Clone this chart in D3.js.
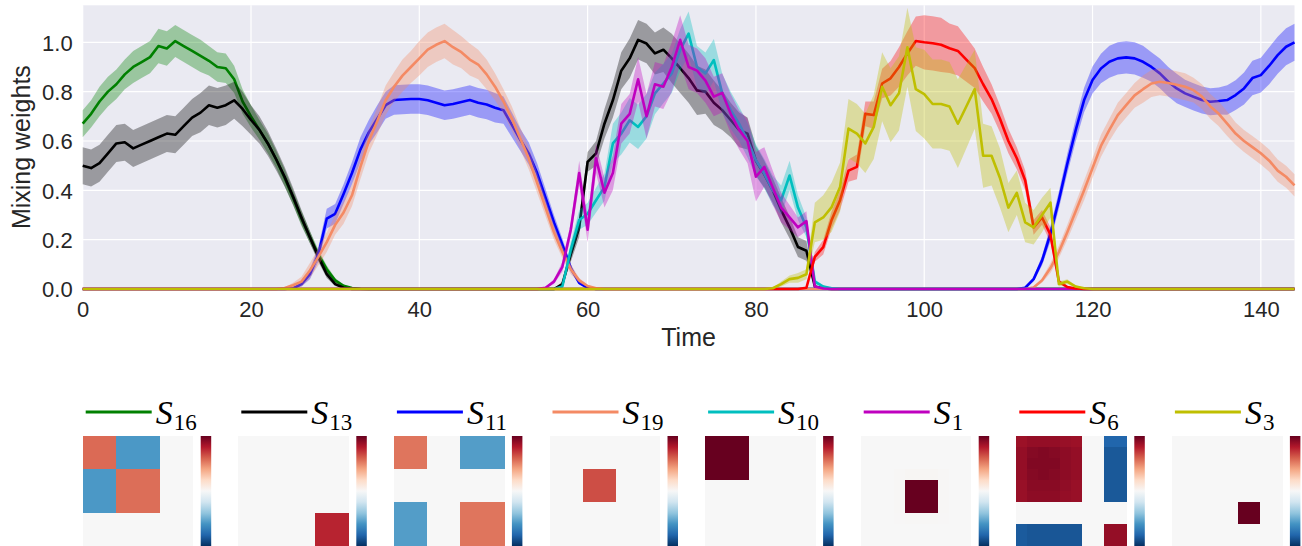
<!DOCTYPE html>
<html><head><meta charset="utf-8">
<script src="https://cdn.jsdelivr.net/npm/d3@7"></script>
<style>html,body{margin:0;padding:0;background:#fff;overflow:hidden}</style>
</head><body><svg id="c" width="1302" height="546"></svg>
<script>
// ---------- data ----------
const seriesSub = ["16","13","11","19","10","1","6","3"];
const seriesColors = ["#008000","#000000","#0000ff","#f48a64","#00bfbf","#bf00bf","#ff0000","#bfbf00"];
const xTicks = [0,20,40,60,80,100,120,140];
const yTicks = [0.0,0.2,0.4,0.6,0.8,1.0];
const yTickLabels = ["0.0","0.2","0.4","0.6","0.8","1.0"];

const s16 = [.67,.71,.76,.80,.83,.87,.90,.92,.94,.985,
 .975,1.005,.985,.965,.945,.925,.90,.895,.85,.76,
 .70,.645,.59,.525,.45,.37,.285,.21,.14,.08,
 .035,.013,.004,.001,0,0,0,0,0,0,
 0,0,0,0,0,0,0,0,0,0, 0,0,0,0,0,0,0,0,0,0, 0,0,0,0,0,0,0,0,0,0,
 0,0,0,0,0,0,0,0,0,0, 0,0,0,0,0,0,0,0,0,0, 0,0,0,0,0,0,0,0,0,0,
 0,0,0,0,0,0,0,0,0,0, 0,0,0,0,0,0,0,0,0,0, 0,0,0,0,0,0,0,0,0,0,
 0,0,0,0,0,0,0,0,0,0, 0,0,0,0,0];
const s16sd = [.055,.055,.06,.06,.06,.06,.065,.065,.065,.07,
 .07,.065,.065,.065,.065,.06,.06,.06,.055,.05,
 .045,.04,.04,.035,.035,.03,.03,.025,.02,.015,
 .01,.005,.002,0,0,0,0,0,0,0,
 0,0,0,0,0,0,0,0,0,0, 0,0,0,0,0,0,0,0,0,0, 0,0,0,0,0,0,0,0,0,0,
 0,0,0,0,0,0,0,0,0,0, 0,0,0,0,0,0,0,0,0,0, 0,0,0,0,0,0,0,0,0,0,
 0,0,0,0,0,0,0,0,0,0, 0,0,0,0,0,0,0,0,0,0, 0,0,0,0,0,0,0,0,0,0,
 0,0,0,0,0,0,0,0,0,0, 0,0,0,0,0];

const s13 = [.50,.49,.51,.55,.59,.595,.57,.585,.60,.615,
 .63,.625,.66,.695,.715,.745,.735,.745,.765,.73,
 .685,.645,.59,.525,.455,.375,.29,.21,.13,.06,
 .02,.005,0,0,0,0,0,0,0,0,
 0,0,0,0,0,0,0,0,0,0,
 0,0,0,0,0,0,0,.02,.14,.25,
 .515,.55,.67,.765,.885,.935,1.01,.995,.955,.97,
 .935,.895,.855,.805,.80,.755,.725,.685,.645,.63,
 .52,.465,.40,.32,.25,.17,.155,.01,.002,0,
 0,0,0,0,0,0,0,0,0,0, 0,0,0,0,0,0,0,0,0,0, 0,0,0,0,0,0,0,0,0,0,
 0,0,0,0,0,0,0,0,0,0, 0,0,0,0,0,0,0,0,0,0, 0,0,0,0,0];
const s13sd = [.075,.075,.075,.075,.075,.075,.075,.075,.075,.075,
 .075,.075,.075,.075,.08,.08,.08,.08,.075,.07,
 .06,.055,.05,.045,.04,.035,.03,.025,.02,.015,
 .008,.003,0,0,0,0,0,0,0,0,
 0,0,0,0,0,0,0,0,0,0,
 0,0,0,0,0,0,0,.01,.03,.04,
 .04,.05,.06,.07,.075,.08,.08,.08,.085,.09,
 .1,.1,.1,.1,.09,.09,.08,.07,.07,.065,
 .06,.055,.05,.05,.045,.04,.04,.005,0,0,
 0,0,0,0,0,0,0,0,0,0, 0,0,0,0,0,0,0,0,0,0, 0,0,0,0,0,0,0,0,0,0,
 0,0,0,0,0,0,0,0,0,0, 0,0,0,0,0,0,0,0,0,0, 0,0,0,0,0];

const s11 = [0,0,0,0,0,0,0,0,0,0, 0,0,0,0,0,0,0,0,0,0,
 0,0,0,0,0,.003,.02,.06,.14,.285,
 .305,.385,.47,.565,.635,.69,.745,.766,.768,.77,
 .77,.765,.755,.745,.75,.758,.766,.755,.748,.735,
 .725,.665,.605,.55,.47,.37,.27,.18,.085,.025,
 .005,0,0,0,0,0,0,0,0,0,
 0,0,0,0,0,0,0,0,0,0, 0,0,0,0,0,0,0,0,0,0, 0,0,0,0,0,0,0,0,0,0, 0,0,0,0,0,0,0,0,0,0,
 0,0,.005,.04,.115,.224,.36,.508,.644,.766,
 .847,.894,.921,.935,.939,.935,.921,.90,.874,.84,
 .813,.793,.779,.766,.759,.762,.766,.786,.813,.855,
 .867,.905,.948,.982,1.0];
const s11sd = [0,0,0,0,0,0,0,0,0,0, 0,0,0,0,0,0,0,0,0,0,
 0,0,0,0,0,.002,.01,.02,.03,.04,
 .04,.04,.045,.05,.05,.055,.055,.06,.06,.06,
 .06,.06,.06,.06,.06,.06,.06,.06,.06,.06,
 .055,.05,.045,.045,.04,.035,.03,.025,.015,.008,
 .002,0,0,0,0,0,0,0,0,0,
 0,0,0,0,0,0,0,0,0,0, 0,0,0,0,0,0,0,0,0,0, 0,0,0,0,0,0,0,0,0,0, 0,0,0,0,0,0,0,0,0,0,
 0,0,.002,.01,.02,.03,.035,.04,.045,.05,
 .055,.06,.065,.065,.065,.065,.065,.06,.06,.06,
 .06,.055,.055,.055,.055,.055,.06,.06,.065,.07,
 .07,.075,.075,.075,.075];

const s19 = [0,0,0,0,0,0,0,0,0,0, 0,0,0,0,0,0,0,0,0,0,
 0,0,0,0,.004,.015,.03,.075,.13,.19,
 .26,.31,.38,.495,.60,.68,.765,.82,.865,.90,
 .935,.97,.99,1.005,.98,.96,.93,.91,.87,.82,
 .76,.69,.61,.53,.43,.33,.23,.15,.08,.035,
 .012,.003,0,0,0,0,0,0,0,0,
 0,0,0,0,0,0,0,0,0,0, 0,0,0,0,0,0,0,0,0,0, 0,0,0,0,0,0,0,0,0,0, 0,0,0,0,0,0,0,0,0,0,
 0,0,0,.006,.035,.085,.15,.23,.315,.40,
 .49,.58,.645,.705,.745,.785,.81,.833,.84,.835,
 .828,.82,.806,.78,.74,.71,.67,.63,.60,.575,
 .55,.52,.48,.455,.42];
const s19sd = [0,0,0,0,0,0,0,0,0,0, 0,0,0,0,0,0,0,0,0,0,
 0,0,0,0,.002,.01,.02,.03,.035,.04,
 .04,.045,.045,.05,.05,.055,.06,.06,.065,.065,
 .07,.07,.07,.07,.07,.065,.065,.06,.06,.055,
 .05,.05,.045,.045,.04,.035,.03,.025,.02,.01,
 .005,.001,0,0,0,0,0,0,0,0,
 0,0,0,0,0,0,0,0,0,0, 0,0,0,0,0,0,0,0,0,0, 0,0,0,0,0,0,0,0,0,0, 0,0,0,0,0,0,0,0,0,0,
 0,0,0,.002,.01,.02,.025,.03,.035,.04,
 .04,.045,.045,.05,.05,.05,.055,.055,.055,.055,
 .055,.055,.05,.05,.05,.05,.05,.045,.045,.045,
 .045,.045,.045,.045,.045];

const s10 = [0,0,0,0,0,0,0,0,0,0, 0,0,0,0,0,0,0,0,0,0, 0,0,0,0,0,0,0,0,0,0,
 0,0,0,0,0,0,0,0,0,0, 0,0,0,0,0,0,0,0,0,0,
 0,0,0,0,0,0,0,.01,.16,.28,
 .305,.36,.413,.59,.63,.684,.657,.70,.793,.833,
 .874,.969,1.035,.90,.874,.928,.793,.725,.67,.603,
 .522,.467,.40,.36,.46,.33,.25,.03,.01,.003,
 0,0,0,0,0,0,0,0,0,0, 0,0,0,0,0,0,0,0,0,0, 0,0,0,0,0,0,0,0,0,0,
 0,0,0,0,0,0,0,0,0,0, 0,0,0,0,0,0,0,0,0,0, 0,0,0,0,0];
const s10sd = [0,0,0,0,0,0,0,0,0,0, 0,0,0,0,0,0,0,0,0,0, 0,0,0,0,0,0,0,0,0,0,
 0,0,0,0,0,0,0,0,0,0, 0,0,0,0,0,0,0,0,0,0,
 0,0,0,0,0,0,0,.005,.03,.04,
 .045,.05,.055,.08,.085,.09,.09,.09,.085,.08,
 .08,.085,.09,.085,.085,.085,.08,.075,.07,.07,
 .065,.06,.06,.06,.06,.05,.04,.01,.005,.002,
 0,0,0,0,0,0,0,0,0,0, 0,0,0,0,0,0,0,0,0,0, 0,0,0,0,0,0,0,0,0,0,
 0,0,0,0,0,0,0,0,0,0, 0,0,0,0,0,0,0,0,0,0, 0,0,0,0,0];

const s1 = [0,0,0,0,0,0,0,0,0,0, 0,0,0,0,0,0,0,0,0,0, 0,0,0,0,0,0,0,0,0,0,
 0,0,0,0,0,0,0,0,0,0, 0,0,0,0,0,0,0,0,0,0,
 0,0,0,0,0,.005,.03,.09,.24,.47,
 .24,.53,.39,.47,.67,.71,.85,.70,.83,.82,
 .90,1.01,.90,.885,.845,.78,.795,.71,.645,.60,
 .455,.495,.41,.33,.29,.25,.275,.01,.002,0,
 0,0,0,0,0,0,0,0,0,0, 0,0,0,0,0,0,0,0,0,0, 0,0,0,0,0,0,0,0,0,0,
 0,0,0,0,0,0,0,0,0,0, 0,0,0,0,0,0,0,0,0,0, 0,0,0,0,0];
const s1sd = [0,0,0,0,0,0,0,0,0,0, 0,0,0,0,0,0,0,0,0,0, 0,0,0,0,0,0,0,0,0,0,
 0,0,0,0,0,0,0,0,0,0, 0,0,0,0,0,0,0,0,0,0,
 0,0,0,0,0,.002,.01,.02,.03,.05,
 .05,.06,.06,.07,.08,.08,.09,.09,.09,.09,
 .1,.1,.09,.09,.09,.08,.08,.08,.08,.09,
 .1,.08,.07,.06,.05,.04,.04,.005,0,0,
 0,0,0,0,0,0,0,0,0,0, 0,0,0,0,0,0,0,0,0,0, 0,0,0,0,0,0,0,0,0,0,
 0,0,0,0,0,0,0,0,0,0, 0,0,0,0,0,0,0,0,0,0, 0,0,0,0,0];

const s6 = [0,0,0,0,0,0,0,0,0,0, 0,0,0,0,0,0,0,0,0,0, 0,0,0,0,0,0,0,0,0,0,
 0,0,0,0,0,0,0,0,0,0, 0,0,0,0,0,0,0,0,0,0, 0,0,0,0,0,0,0,0,0,0,
 0,0,0,0,0,0,0,0,0,0, 0,0,0,0,0,0,0,0,0,0,
 0,0,0,0,0,0,.005,.13,.17,.28,
 .36,.48,.495,.71,.705,.833,.854,.90,.955,1.005,
 1.0,.996,.99,.976,.965,.93,.895,.83,.77,.69,
 .60,.53,.44,.25,.29,.22,.03,.008,.002,0,
 0,0,0,0,0,0,0,0,0,0, 0,0,0,0,0,0,0,0,0,0, 0,0,0,0,0];
const s6sd = [0,0,0,0,0,0,0,0,0,0, 0,0,0,0,0,0,0,0,0,0, 0,0,0,0,0,0,0,0,0,0,
 0,0,0,0,0,0,0,0,0,0, 0,0,0,0,0,0,0,0,0,0, 0,0,0,0,0,0,0,0,0,0,
 0,0,0,0,0,0,0,0,0,0, 0,0,0,0,0,0,0,0,0,0,
 0,0,0,0,0,0,.002,.02,.03,.035,
 .04,.045,.05,.05,.055,.06,.07,.08,.09,.1,
 .11,.11,.11,.1,.1,.09,.08,.07,.06,.055,
 .05,.045,.04,.03,.03,.03,.01,.005,.001,0,
 0,0,0,0,0,0,0,0,0,0, 0,0,0,0,0,0,0,0,0,0, 0,0,0,0,0];

const s3 = [0,0,0,0,0,0,0,0,0,0, 0,0,0,0,0,0,0,0,0,0, 0,0,0,0,0,0,0,0,0,0,
 0,0,0,0,0,0,0,0,0,0, 0,0,0,0,0,0,0,0,0,0, 0,0,0,0,0,0,0,0,0,0,
 0,0,0,0,0,0,0,0,0,0, 0,0,0,0,0,0,0,0,0,0,
 0,0,.003,.02,.04,.045,.06,.27,.29,.332,
 .413,.65,.63,.59,.657,.82,.745,.793,.98,.81,
 .79,.75,.75,.74,.67,.74,.81,.54,.54,.45,
 .33,.39,.27,.25,.30,.35,.02,.03,.01,.003,
 0,0,0,0,0,0,0,0,0,0, 0,0,0,0,0,0,0,0,0,0, 0,0,0,0,0];
const s3sd = [0,0,0,0,0,0,0,0,0,0, 0,0,0,0,0,0,0,0,0,0, 0,0,0,0,0,0,0,0,0,0,
 0,0,0,0,0,0,0,0,0,0, 0,0,0,0,0,0,0,0,0,0, 0,0,0,0,0,0,0,0,0,0,
 0,0,0,0,0,0,0,0,0,0, 0,0,0,0,0,0,0,0,0,0,
 0,0,.002,.01,.015,.02,.02,.08,.09,.1,
 .1,.12,.12,.12,.13,.14,.15,.15,.16,.17,
 .18,.18,.18,.18,.18,.17,.16,.13,.12,.12,
 .1,.09,.08,.07,.07,.06,.01,.01,.005,.001,
 0,0,0,0,0,0,0,0,0,0, 0,0,0,0,0,0,0,0,0,0, 0,0,0,0,0];

// 10x10 structure matrices shown under the legend
const mS16 = [
 [.57,.57,.57,-.58,-.58,-.58,-.58,0,0,0],
 [.57,.57,.57,-.58,-.58,-.58,-.58,0,0,0],
 [.57,.57,.57,-.58,-.58,-.58,-.58,0,0,0],
 [-.58,-.58,-.58,.56,.56,.56,.56,0,0,0],
 [-.58,-.58,-.58,.56,.56,.56,.56,0,0,0],
 [-.58,-.58,-.58,.56,.56,.56,.56,0,0,0],
 [-.58,-.58,-.58,.56,.56,.56,.56,0,0,0],
 [0,0,0,0,0,0,0,0,0,0],[0,0,0,0,0,0,0,0,0,0],[0,0,0,0,0,0,0,0,0,0]];
const mS13 = [
 [0,0,0,0,0,0,0,0,0,0],[0,0,0,0,0,0,0,0,0,0],[0,0,0,0,0,0,0,0,0,0],
 [0,0,0,0,0,0,0,0,0,0],[0,0,0,0,0,0,0,0,0,0],[0,0,0,0,0,0,0,0,0,0],
 [0,0,0,0,0,0,0,0,0,0],
 [0,0,0,0,0,0,0,.77,.77,.77],[0,0,0,0,0,0,0,.77,.77,.77],[0,0,0,0,0,0,0,.77,.77,.77]];
const mS11 = [
 [.54,.54,.54,0,0,0,-.56,-.56,-.56,-.56],
 [.54,.54,.54,0,0,0,-.56,-.56,-.56,-.56],
 [.54,.54,.54,0,0,0,-.56,-.56,-.56,-.56],
 [0,0,0,0,0,0,0,0,0,0],[0,0,0,0,0,0,0,0,0,0],[0,0,0,0,0,0,0,0,0,0],
 [-.56,-.56,-.56,0,0,0,.54,.54,.54,.54],
 [-.56,-.56,-.56,0,0,0,.54,.54,.54,.54],
 [-.56,-.56,-.56,0,0,0,.54,.54,.54,.54],
 [-.56,-.56,-.56,0,0,0,.54,.54,.54,.54]];
const mS19 = [
 [0,0,0,0,0,0,0,0,0,0],[0,0,0,0,0,0,0,0,0,0],[0,0,0,0,0,0,0,0,0,0],
 [0,0,0,.65,.65,.65,0,0,0,0],[0,0,0,.65,.65,.65,0,0,0,0],[0,0,0,.65,.65,.65,0,0,0,0],
 [0,0,0,0,0,0,0,0,0,0],[0,0,0,0,0,0,0,0,0,0],[0,0,0,0,0,0,0,0,0,0],[0,0,0,0,0,0,0,0,0,0]];
const mS10 = [
 [1,1,1,1,0,0,0,0,0,0],[1,1,1,1,0,0,0,0,0,0],[1,1,1,1,0,0,0,0,0,0],[1,1,1,1,0,0,0,0,0,0],
 [0,0,0,0,0,0,0,0,0,0],[0,0,0,0,0,0,0,0,0,0],[0,0,0,0,0,0,0,0,0,0],
 [0,0,0,0,0,0,0,0,0,0],[0,0,0,0,0,0,0,0,0,0],[0,0,0,0,0,0,0,0,0,0]];
const mS1 = [
 [0,0,0,0,0,0,0,0,0,0],[0,0,0,0,0,0,0,0,0,0],[0,0,0,0,0,0,0,0,0,0],
 [0,0,0,.01,.015,.015,.015,.01,0,0],
 [0,0,0,.01,1,1,1,.01,0,0],[0,0,0,.01,1,1,1,.01,0,0],[0,0,0,.01,1,1,1,.01,0,0],
 [0,0,0,.005,.01,.01,.01,.005,0,0],
 [0,0,0,0,0,0,0,0,0,0],[0,0,0,0,0,0,0,0,0,0]];
const mS6 = [
 [.86,.88,.88,.88,.87,.86,0,0,-.8,-.8],
 [.88,.92,.93,.92,.9,.88,0,0,-.85,-.85],
 [.88,.93,.93,.93,.9,.88,0,0,-.85,-.85],
 [.88,.92,.93,.92,.9,.88,0,0,-.85,-.85],
 [.87,.91,.91,.91,.89,.87,0,0,-.85,-.85],
 [.87,.9,.9,.9,.88,.87,0,0,-.85,-.85],
 [0,0,0,0,0,0,0,0,0,0],[0,0,0,0,0,0,0,0,0,0],
 [-.84,-.86,-.86,-.86,-.86,-.86,0,0,.88,.88],
 [-.84,-.86,-.86,-.86,-.86,-.86,0,0,.88,.88]];
const mS3 = [
 [0,0,0,0,0,0,0,0,0,0],[0,0,0,0,0,0,0,0,0,0],[0,0,0,0,0,0,0,0,0,0],
 [0,0,0,0,0,0,0,0,0,0],[0,0,0,0,0,0,0,0,0,0],[0,0,0,0,0,0,0,0,0,0],
 [0,0,0,0,0,0,1,1,0,0],[0,0,0,0,0,0,1,1,0,0],
 [0,0,0,0,0,0,0,0,0,0],[0,0,0,0,0,0,0,0,0,0]];

const seriesValues = [s16,s13,s11,s19,s10,s1,s6,s3];
const seriesSpread = [s16sd,s13sd,s11sd,s19sd,s10sd,s1sd,s6sd,s3sd];
const matrices = [mS16,mS13,mS11,mS19,mS10,mS1,mS6,mS3];

// ---------- drawing ----------
const svg = d3.select("#c");
svg.append("rect").attr("width",1302).attr("height",546).attr("fill","#fff");

const L = 82.7, R = 1294.5, T = 5.3, B = 289;
const x = d3.scaleLinear().domain([0,144]).range([L,R]);
const y = d3.scaleLinear().domain([0,1.15]).range([B,T]);
const sansFont = "'Liberation Sans', Arial, 'DejaVu Sans', sans-serif";

svg.append("rect").attr("x",L).attr("y",T).attr("width",R-L).attr("height",B-T).attr("fill","#eaeaf2");

// grid
svg.append("g").selectAll("line").data(yTicks).join("line")
  .attr("x1",L).attr("x2",R).attr("y1",d=>y(d)).attr("y2",d=>y(d))
  .attr("stroke","#fff").attr("stroke-width",1.2);
svg.append("g").selectAll("line").data(xTicks).join("line")
  .attr("x1",d=>x(d)).attr("x2",d=>x(d)).attr("y1",T).attr("y2",B)
  .attr("stroke","#fff").attr("stroke-width",1.2);

// axes (tick labels only, seaborn darkgrid style)
const xAxis = d3.axisBottom(x).tickValues(xTicks).tickSize(0).tickPadding(0).tickFormat(d3.format("d"));
const gx = svg.append("g").attr("transform",`translate(0,${B})`).call(xAxis);
gx.select(".domain").remove();
gx.selectAll("text").attr("font-family",sansFont).attr("font-size",22).attr("fill","#262626")
  .attr("dy",null).attr("y",27.5);

const yAxis = d3.axisLeft(y).tickValues(yTicks).tickSize(0).tickPadding(10).tickFormat((d,i)=>yTickLabels[i]);
const gy = svg.append("g").attr("transform",`translate(${L},0)`).call(yAxis);
gy.select(".domain").remove();
gy.selectAll("text").attr("font-family",sansFont).attr("font-size",22).attr("fill","#262626")
  .attr("dy","0.36em");

svg.append("text").attr("x",(L+R)/2).attr("y",346).attr("text-anchor","middle")
  .attr("font-family",sansFont).attr("font-size",25).attr("fill","#262626").text("Time");
svg.append("text").attr("transform",`translate(29.5,${(T+B)/2}) rotate(-90)`).attr("text-anchor","middle")
  .attr("font-family",sansFont).attr("font-size",25).attr("fill","#262626").text("Mixing weights");

// series
const area = d3.area().x((d,i)=>x(i)).y0(d=>y(Math.max(0,d[0]-d[1]))).y1(d=>y(d[0]+d[1]));
const line = d3.line().x((d,i)=>x(i)).y(d=>y(d));
const gs = svg.append("g");
seriesValues.forEach((vals,k)=>{
  const pairs = vals.map((v,i)=>[v,seriesSpread[k][i]]);
  gs.append("path").attr("d",area(pairs)).attr("fill",seriesColors[k]).attr("fill-opacity",0.34).attr("stroke","none");
  gs.append("path").attr("d",line(vals)).attr("fill","none").attr("stroke",seriesColors[k])
    .attr("stroke-width",2.6).attr("stroke-linejoin","round");
});

// legend + matrices
const panelX = d3.scaleLinear().domain([0,7]).range([82.7,1171.9]);
const cellTop = 436, cellSize = 110;
const rdbu = d3.schemeRdBu[11];
const col = d3.scaleLinear().domain(d3.range(11).map(i=>1 - i*0.2)).range(rdbu).interpolate(d3.interpolateRgb);

const defs = svg.append("defs");
const grad = defs.append("linearGradient").attr("id","cbar").attr("x1",0).attr("y1",0).attr("x2",0).attr("y2",1);
rdbu.forEach((c,i)=>grad.append("stop").attr("offset",i/10).attr("stop-color",c));

matrices.forEach((m,k)=>{
  const left = panelX(k);
  const g = svg.append("g");
  g.append("line").attr("x1",left+3).attr("x2",left+69).attr("y1",412).attr("y2",412)
    .attr("stroke",seriesColors[k]).attr("stroke-width",3);
  const t = g.append("text").attr("x",left+73).attr("y",424)
    .attr("font-family","'Liberation Serif','DejaVu Serif',serif").attr("fill","#000");
  t.append("tspan").attr("font-style","italic").attr("font-size",34).text("S");
  t.append("tspan").attr("font-size",23).attr("dx",1).attr("dy",6).text(seriesSub[k]);

  const bx = d3.scaleBand().domain(d3.range(10)).range([left,left+cellSize]);
  const by = d3.scaleBand().domain(d3.range(10)).range([cellTop,cellTop+cellSize]);
  const gc = g.append("g").attr("shape-rendering","crispEdges");
  m.forEach((row,r)=>row.forEach((v,c)=>{
    gc.append("rect").attr("x",bx(c)).attr("y",by(r)).attr("width",bx.bandwidth()+0.6).attr("height",by.bandwidth()+0.6)
      .attr("fill",col(v));
  }));
  g.append("rect").attr("x",left+118).attr("y",cellTop).attr("width",10.5).attr("height",cellSize)
    .attr("fill","url(#cbar)");
});
</script>
</body></html>
